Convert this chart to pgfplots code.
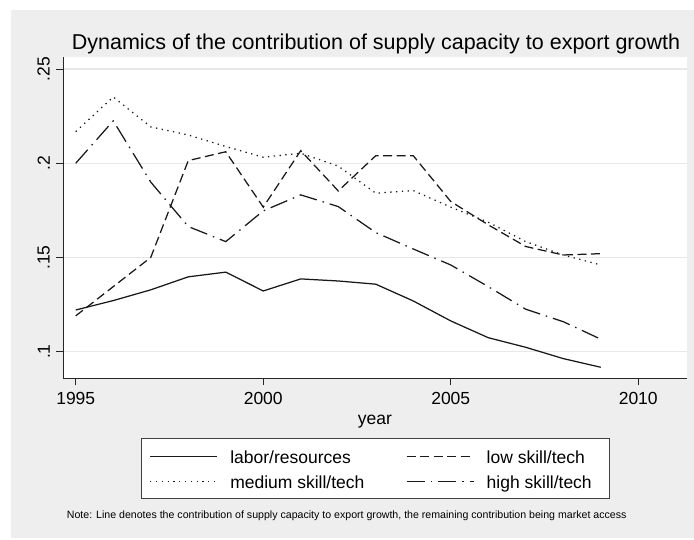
\documentclass[border=0pt]{standalone}
\usepackage{fontspec}
\setmainfont{Liberation Sans}
\usepackage{pgfplots}
\pgfplotsset{compat=1.18}
\definecolor{bggray}{RGB}{238,238,238}
\definecolor{gridgray}{RGB}{232,232,232}
\definecolor{linecol}{RGB}{25,25,25}
\begin{document}
\begin{tikzpicture}[x=1pt,y=1pt]
\fill[white] (0,0) rectangle (694,539);
\fill[bggray] (11,1) rectangle (694,529);
% legend box
\filldraw[fill=white, draw=black!75, line width=0.9pt] (141.7,40.7) rectangle (609.3,100.7);
\begin{axis}[
  at={(63pt,161pt)}, anchor=south west,
  scale only axis, width=624pt, height=321pt,
  xmin=1994.66, xmax=2011.3, ymin=0.086, ymax=0.2564,
  axis background/.style={fill=white},
  axis x line*=bottom, axis y line*=left,
  axis line style={-, black!85, line width=0.9pt},
  tick align=outside, major tick length=7pt,
  tick style={black!85, line width=0.9pt},
  xtick={1995,2000,2005,2010}, xticklabels={1995,2000,2005,2010},
  ytick={0.1,0.15,0.2,0.25}, yticklabels={.1,.15,.2,.25},
  ymajorgrids, grid style={gridgray, line width=1.3pt},
  xticklabel style={font=\fontsize{17.5}{20}\selectfont, inner xsep=0pt, inner ysep=7pt},
  yticklabel style={font=\fontsize{17.5}{20}\selectfont, rotate=90, anchor=south, inner xsep=0pt, inner ysep=6pt},
  legend columns=2,
  legend cell align=left,
  legend image code/.code={\draw[#1] (0pt,2.5pt) -- (67pt,2.5pt);},
  legend style={at={(axis description cs:0.1383,-0.2274)}, anchor=north west,
    draw=none, fill=none, inner sep=0pt,
    font=\fontsize{17.5}{20}\selectfont,
    nodes={inner sep=0pt, text height=12.5pt, text depth=3.5pt},
    row sep=9pt,
    /tikz/every odd column/.append style={column sep=12.5pt},
    /tikz/every even column/.append style={column sep=41.5pt}},
  every axis plot/.append style={line width=1.25pt, linecol},
]
\addplot[solid] coordinates {
(1995,0.1221) (1996,0.1271) (1997,0.1328) (1998,0.1397) (1999,0.1422)
(2000,0.1322) (2001,0.1386) (2002,0.1375) (2003,0.1358) (2004,0.1269)
(2005,0.1163) (2006,0.1074) (2007,0.1023) (2008,0.0963) (2009,0.0917)};
\addlegendentry{labor/resources}
\addplot[dash pattern=on 9pt off 4.5pt] coordinates {
(1995,0.1190) (1996,0.1345) (1997,0.1500) (1998,0.2014) (1999,0.2061)
(2000,0.1767) (2001,0.2067) (2002,0.1853) (2003,0.2040) (2004,0.2040)
(2005,0.1797) (2006,0.1673) (2007,0.1558) (2008,0.1513) (2009,0.1520)};
\addlegendentry{low skill/tech}
\addplot[dash pattern=on 1.3pt off 4.5pt] coordinates {
(1995,0.2168) (1996,0.2352) (1997,0.2193) (1998,0.2150) (1999,0.2089)
(2000,0.2032) (2001,0.2053) (2002,0.1985) (2003,0.1841) (2004,0.1855)
(2005,0.1767) (2006,0.1687) (2007,0.1584) (2008,0.1513) (2009,0.1460)};
\addlegendentry{medium skill/tech}
\addplot[dash pattern=on 18pt off 6pt on 1.5pt off 6pt] coordinates {
(1995,0.2000) (1996,0.2225) (1997,0.1900) (1998,0.1664) (1999,0.1584)
(2000,0.1747) (2001,0.1832) (2002,0.1770) (2003,0.1632) (2004,0.1545)
(2005,0.1460) (2006,0.1345) (2007,0.1225) (2008,0.1159) (2009,0.1066)};
\addlegendentry{high skill/tech}
\end{axis}
\node[anchor=base, font=\fontsize{21.5}{24}\selectfont] at (376,489) {Dynamics of the contribution of supply capacity to export growth};
\node[anchor=base, font=\fontsize{17.5}{20}\selectfont, inner sep=0pt] at (375,115) {year};
\node[anchor=base west, font=\fontsize{10.6}{12}\selectfont, inner sep=0pt] at (66.7,21) {Note: Line denotes the contribution of supply capacity to export growth, the remaining contribution being market access};
\end{tikzpicture}
\end{document}
